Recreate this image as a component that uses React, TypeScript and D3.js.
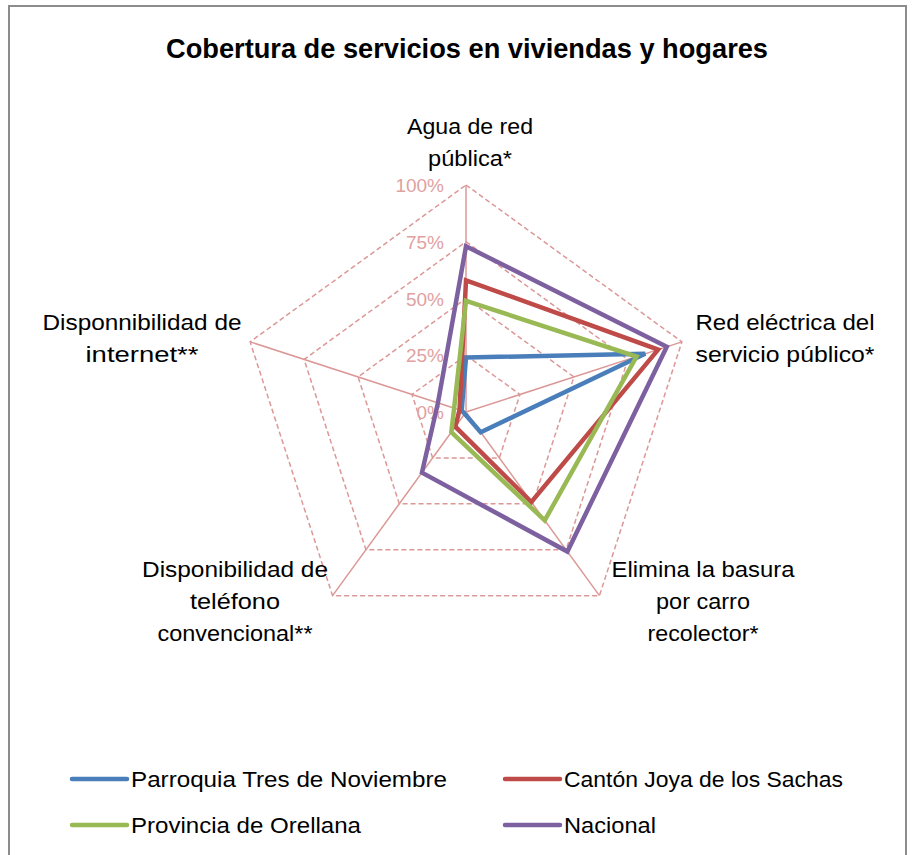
import React from "react";
import * as d3 from "d3";

const categories: string[][] = [
  ["Agua de red", "pública*"],
  ["Red eléctrica del", "servicio público*"],
  ["Elimina la basura", "por carro", "recolector*"],
  ["Disponibilidad de", "teléfono", "convencional**"],
  ["Disponnibilidad de", "internet**"],
];

const seriesNames = [
  "Parroquia Tres de Noviembre",
  "Cantón Joya de los Sachas",
  "Provincia de Orellana",
  "Nacional",
];
const seriesColors = ["#4A7EBB", "#BE4B48", "#98B954", "#7D60A0"];

const parroquia = [0.24, 0.83, 0.11, 0.01, 0.02];
const canton = [0.58, 0.89, 0.49, 0.08, 0.03];
const provincia = [0.49, 0.79, 0.59, 0.11, 0.055];
const nacional = [0.73, 0.93, 0.76, 0.33, 0.13];
const seriesValues = [parroquia, canton, provincia, nacional];

const ticks = [0, 0.25, 0.5, 0.75, 1];
const tickLabels = ["0%", "25%", "50%", "75%", "100%"];

const W = 912;
const H = 855;
const cx = 466;
const cy = 412;
const R = 227;
const gridColor = "#DB9896";
const tickColor = "#E0A19F";
const font = "'Liberation Sans', Arial, sans-serif";

const labelLayout: { x: number; y: number; w: number[] }[] = [
  { x: 470, y: 134, w: [126, 84] },
  { x: 785, y: 330, w: [179, 179] },
  { x: 703, y: 577, w: [183, 94, 111] },
  { x: 235, y: 577, w: [186, 90, 155] },
  { x: 142, y: 330, w: [199, 113] },
];

const legendItems = [
  { x: 72, y: 779, w: 316 },
  { x: 505, y: 779, w: 279 },
  { x: 72, y: 825, w: 230 },
  { x: 505, y: 825, w: 92 },
];

export default function App() {
  const n = categories.length;
  const r = d3.scaleLinear().domain([0, 1]).range([0, R]);
  const angle = d3.scaleLinear().domain([0, n]).range([0, 2 * Math.PI]);
  const idx = d3.range(n);

  const pt = (i: number, v: number): [number, number] => {
    const a = angle(i);
    return [cx + r(v) * Math.sin(a), cy - r(v) * Math.cos(a)];
  };

  const radial = d3
    .lineRadial<number>()
    .angle((_, i) => angle(i))
    .radius((d) => r(d))
    .curve(d3.curveLinearClosed);

  return (
    <svg
      width={W}
      height={H}
      style={{ position: "absolute", left: 0, top: 0, background: "#fff" }}
      fontFamily={font}
    >
      <rect x={9} y={6} width={897} height={870} fill="#fff" stroke="#8C8C8C" strokeWidth={2} />
      <text
        x={467}
        y={58}
        textAnchor="middle"
        fontWeight="bold"
        fontSize={27}
        textLength={602}
        lengthAdjust="spacingAndGlyphs"
        fill="#000"
      >
        Cobertura de servicios en viviendas y hogares
      </text>

      {ticks
        .filter((t) => t > 0)
        .map((t) => (
          <polygon
            key={t}
            points={idx.map((i) => pt(i, t).join(",")).join(" ")}
            fill="none"
            stroke={gridColor}
            strokeWidth={1.5}
            strokeDasharray="5,3"
          />
        ))}
      {idx.map((i) => {
        const [x, y] = pt(i, 1);
        return <line key={i} x1={cx} y1={cy} x2={x} y2={y} stroke={gridColor} strokeWidth={1.5} />;
      })}
      {ticks.map((t, k) => (
        <text
          key={t}
          x={444}
          y={cy - r(t) + 7}
          textAnchor="end"
          fontSize={19}
          fill={tickColor}
        >
          {tickLabels[k]}
        </text>
      ))}

      <g transform={`translate(${cx},${cy})`}>
        {seriesValues.map((vals, s) => (
          <path
            key={s}
            d={radial(vals) || ""}
            fill="none"
            stroke={seriesColors[s]}
            strokeWidth={4.5}
            strokeLinejoin="miter"
          />
        ))}
      </g>

      {categories.map((lines, i) =>
        lines.map((line, j) => (
          <text
            key={`${i}-${j}`}
            x={labelLayout[i].x}
            y={labelLayout[i].y + j * 32}
            textAnchor="middle"
            fontSize={22}
            textLength={labelLayout[i].w[j]}
            lengthAdjust="spacingAndGlyphs"
            fill="#000"
          >
            {line}
          </text>
        ))
      )}

      {seriesNames.map((name, s) => (
        <g key={name}>
          <line
            x1={legendItems[s].x}
            x2={legendItems[s].x + 55}
            y1={legendItems[s].y}
            y2={legendItems[s].y}
            stroke={seriesColors[s]}
            strokeWidth={4.5}
            strokeLinecap="round"
          />
          <text
            x={legendItems[s].x + 59}
            y={legendItems[s].y + 8}
            fontSize={22}
            textLength={legendItems[s].w}
            lengthAdjust="spacingAndGlyphs"
            fill="#000"
          >
            {name}
          </text>
        </g>
      ))}
    </svg>
  );
}
